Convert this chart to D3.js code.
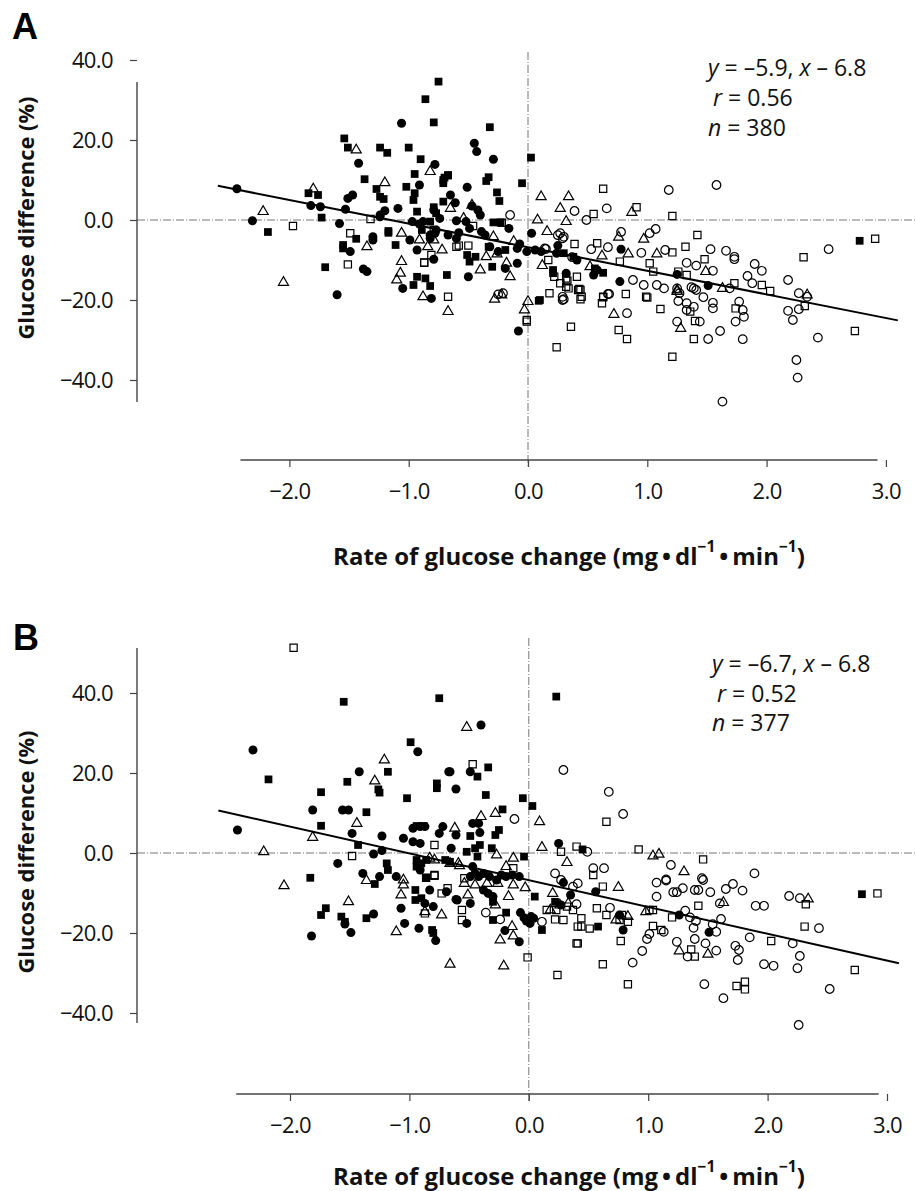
<!DOCTYPE html>
<html><head><meta charset="utf-8">
<script src="https://cdn.jsdelivr.net/npm/d3@7"></script>
<style>body{margin:0;background:#fff}svg{display:block}</style>
</head><body>
<svg id="chart" width="916" height="1191"></svg>
<script>
// ---------- data ----------
const xTicks = [-2, -1, 0, 1, 2, 3];
const yTicks = [-40, -20, 0, 20, 40];
const panelLetters = ["A", "B"];
const slopes = [-5.9, -6.7];
const intercepts = [-6.8, -6.8];
const rValues = ["0.56", "0.52"];
const nValues = ["380", "377"];
const fitRange = [-2.6, 3.1];

// Panel A
const aFilledCircle = [[-2.44,7.8],[-2.31,-0.2],[-1.82,3.6],[-1.74,3.3],[-1.60,-18.7],[-1.53,2.7],[-1.58,-0.9],[-1.51,5.4],[-1.47,6.25],[-1.42,14.2],[-1.49,-7.9],[-1.38,-12.25],[-1.35,-12.9],[-1.06,24.2],[-0.78,13.9],[-0.91,8.75],[-0.65,6.25],[-1.09,2.9],[-0.79,2.5],[-1.24,1.25],[-0.97,-0.4],[-0.91,-1.0],[-0.88,-0.4],[-0.99,-5],[-0.93,-7.5],[-0.82,-3.75],[-0.77,-2.5],[-0.67,-3.75],[-0.60,-4.6],[-1.30,-4.2],[-1.30,-5.0],[-1.05,-17.1],[-0.79,-9.8],[-0.81,-19.6],[-0.45,19.2],[-0.43,17.1],[-0.29,15.2],[-0.51,8.2],[-0.61,4.3],[-0.47,3.5],[-0.42,2.5],[-0.40,1.25],[-1.2,2.3],[-1.24,0.8],[-0.74,0.4],[-0.60,-0.2],[-0.52,-0.4],[-0.49,-2.1],[-0.16,-2.1],[-0.39,-2.9],[-0.36,-3.75],[-0.25,-7.9],[-0.07,-6],[-0.09,-7.1],[-0.01,-7.9],[0.06,-7.5],[0.11,-7.9],[0.24,-8.3],[0.03,-3.3],[0.25,-6.4],[0.32,-13.3],[0.41,-10],[-0.82,-4.6],[-0.78,-3.3],[-0.58,-3.2],[-0.32,-6.7],[-0.19,-12.1],[-0.09,-10.8],[-0.50,-14.2],[0.78,-7.3],[1.25,-13.6],[1.51,-16.4],[0.55,-13.75],[0.58,-12.5],[0.77,-15.4],[-0.08,-27.75]];
const aFilledSquare = [[-2.18,-3.0],[-1.84,6.7],[-1.76,6.25],[-1.73,0.6],[-1.70,-11.8],[-1.37,10.2],[-1.44,-4.7],[-1.55,-6.25],[-1.55,-7.1],[-0.75,34.6],[-0.86,30.2],[-0.79,24.4],[-1.54,20.4],[-1.51,18.1],[-1.24,18.1],[-1.18,16.8],[-1.00,18.1],[-0.90,15.2],[-0.95,11.5],[-0.71,10],[-0.67,11.1],[-1.02,8.3],[-1.27,7.75],[-1.24,5.8],[-1.21,5.25],[-0.95,6.7],[-0.96,5.0],[-0.71,4.6],[-0.93,2.1],[-1.17,-2.75],[-0.89,-2.5],[-1.11,-6.25],[-0.93,-14.2],[-0.86,-14.6],[-0.96,-16.25],[-0.82,-16.5],[-0.68,-13.75],[-0.32,23.2],[0.025,15.6],[-0.70,10.6],[-0.67,11.25],[-0.71,9.2],[-0.35,9.75],[-0.33,10.7],[-0.05,9.2],[-0.26,6.9],[-0.24,4.75],[-0.79,3.2],[-0.77,1.7],[-0.82,-0.4],[-0.29,-0.6],[-0.23,-0.6],[-0.33,-6.7],[-0.19,-7.5],[0.30,-8.3],[0.38,-9.2],[0.21,-12.5],[0.21,-13.3],[0.10,-20],[-0.51,-8.75],[-0.44,-9.2],[-0.49,-10.4],[-0.30,-11.7],[0.56,-12.1],[0.63,-13.2],[2.78,-5.2],[0.09,-20.2],[-1.17,-3.2]];
const aOpenCircle = [[0.39,2.25],[0.27,-3.3],[0.30,-4.2],[0.14,-7.1],[0.29,-20],[-0.25,-18.6],[-0.21,-18.3],[1.58,8.75],[1.18,7.5],[0.66,2.9],[0.49,0],[0.78,-3],[1.07,-2.25],[1.02,-3.3],[0.53,-7.3],[0.67,-6.8],[0.95,-8.2],[1.15,-7.5],[1.53,-7.3],[1.66,-7.7],[1.73,-9.2],[1.73,-9.8],[1.33,-10.7],[1.41,-11.4],[1.55,-12.7],[1.90,-11],[1.96,-12.7],[1.84,-14],[1.88,-15.8],[2.18,-15],[2.52,-7.3],[1.69,-17.1],[1.37,-16.8],[0.88,-15],[0.97,-16.25],[1.08,-16.25],[1.14,-17.1],[0.67,-18.5],[0.29,-19.2],[0.37,-9.3],[0.15,-7.25],[0.25,-3.8],[0.29,-4.6],[0.30,-19.8],[0.68,-18.5],[0.83,-23.3],[1.25,-17.1],[1.27,-18.3],[1.26,-20.25],[1.33,-20.8],[1.33,-22.5],[1.25,-25.4],[1.39,-21.7],[1.44,-25.4],[1.39,-17.1],[1.41,-17.5],[1.47,-19.3],[1.51,-29.75],[1.61,-27.75],[1.55,-20.7],[1.55,-22.1],[1.63,-45.4],[1.77,-20.4],[1.80,-22.5],[1.74,-25.4],[1.81,-24.2],[1.80,-29.8],[2.27,-18.3],[2.34,-19.2],[2.18,-22.7],[2.27,-22.3],[2.22,-25],[2.25,-35],[2.26,-39.4],[2.43,-29.4],[-0.15,1.25]];
const aOpenSquare = [[-1.97,-1.5],[-1.49,-3.3],[-1.51,-11.1],[-1.32,0.25],[-0.87,-10.6],[-0.67,-19.2],[-0.79,-2.5],[-0.60,-6.7],[-0.46,-1.5],[-0.22,-0.7],[-0.58,-6.4],[-0.50,-6.4],[-0.81,-8.75],[-0.87,-10.7],[0.39,-6],[0.17,-10],[0.22,-14.2],[0.27,-15.8],[0.33,-15.2],[0.34,-17.1],[0.42,-17.5],[0.18,-18.3],[-0.01,-25],[0.63,7.8],[0.55,1.5],[0.91,3.2],[1.21,1.0],[1.42,-3.75],[1.21,-8.1],[1.32,-6.7],[1.48,-9.8],[1.73,-15.8],[1.96,-16.25],[2.03,-17.75],[2.31,-9.3],[2.91,-4.7],[1.26,-12.9],[1.33,-13.75],[1.02,-10.8],[1.05,-12.9],[0.99,-19.2],[0.82,-18.5],[0.63,-19.2],[0.43,-17.25],[0.45,-19.2],[0.58,-5.8],[0.77,-10.4],[-0.01,-25.4],[0.24,-31.8],[0.36,-26.7],[0.44,-17.5],[0.44,-19.8],[0.41,-14.2],[0.32,-16.7],[0.32,-14.6],[0.62,-20.8],[0.63,-19.3],[0.76,-27.5],[0.83,-29.75],[1.0,-19.4],[1.11,-22.25],[1.21,-34.2],[1.36,-22.9],[1.40,-25.25],[1.39,-29.75],[1.74,-22.1],[2.32,-21.5],[2.74,-27.75]];
const aOpenTriangle = [[-2.22,2.1],[-2.05,-15.6],[-1.80,7.75],[-1.35,-6.7],[-1.44,17.5],[-0.82,12.1],[-1.20,9.3],[-0.65,2.9],[-1.06,-3.3],[-0.91,-5],[-0.84,-6.7],[-0.79,-5],[-0.72,-7.5],[-1.06,-10.4],[-1.07,-13.3],[-1.10,-15],[-0.88,-19.2],[-0.67,-22.9],[-0.47,3.7],[-0.54,0.4],[-0.29,-4.2],[-0.12,-5.4],[0.11,5.8],[0.34,5.8],[0.27,2.9],[0.08,0],[0.16,-2.9],[0.32,-0.4],[0.12,-11.4],[0.0,-20.4],[-0.03,-22.5],[-0.35,-9.2],[-0.26,-8.5],[-0.40,-12.5],[-0.18,-10.8],[-0.15,-14.2],[-0.28,-19.8],[-0.22,-18.75],[0.87,1.9],[0.97,-4.8],[0.76,-4.3],[0.84,-8.5],[1.08,-8.5],[1.49,-12.9],[2.34,-18.75],[1.63,-17.1],[1.25,-17.5],[0.62,-9],[0.52,-11.7],[0.72,-23.6],[1.25,-17.9],[1.28,-27.1]];

// Panel B
const bFilledCircle = [[-2.31,25.75],[-0.93,25.3],[-1.42,20.3],[-0.66,20.3],[-0.61,16],[-1.81,10.75],[-1.56,10.75],[-1.51,10.75],[-2.44,5.75],[-1.48,4.9],[-1.23,4.25],[-1.30,-0.25],[-1.23,0.6],[-1.05,3.7],[-0.97,2.8],[-0.97,6.2],[-0.91,6.6],[-0.87,6.6],[-0.91,2.4],[-0.72,6.6],[-0.75,4.9],[-0.61,4.5],[-0.65,1.2],[-1.60,-2.6],[-1.39,-5.1],[-1.25,-5.9],[-1.11,-5.9],[-0.87,-12.6],[-0.83,-9.25],[-0.80,-13.4],[-0.69,-9.7],[-0.61,-11.6],[-1.54,-17.75],[-1.30,-15.25],[-1.82,-20.75],[-1.49,-19.9],[-1.07,-13.8],[-1.04,-17.6],[-0.92,-18.8],[-0.78,-21.9],[-0.40,32],[-0.67,20.3],[-0.49,20.3],[-0.47,7.4],[-0.42,7.4],[-0.41,5.1],[0.25,2.4],[-0.91,-4.25],[-0.47,-3.4],[-0.49,-5.9],[-0.45,-5.1],[-0.42,-5.9],[-0.38,-5.1],[-0.33,-5.9],[-0.27,-6.75],[-0.23,-5.5],[-0.19,-5.9],[-0.14,-5.5],[-0.08,-5.9],[-0.38,-9.25],[-0.34,-10.1],[-0.30,-10.9],[-0.60,-11.75],[-0.49,-12.6],[-0.52,-17.6],[-0.07,-14.9],[-0.04,-16.2],[-0.02,-17],[0.02,-15.9],[0.01,-17.6],[0.04,-16.3],[-0.20,-19.4],[-0.08,-22.2],[0.27,-13],[0.35,-10.5],[0.29,-7.4],[0.56,-9.7],[0.76,-15.5],[0.79,-19.25],[1.26,-15.5],[1.51,-19.8]];
const bFilledSquare = [[-1.55,37.8],[-0.75,38.7],[-0.99,27.7],[-2.18,18.4],[-1.18,20.3],[-1.52,17.8],[-0.77,17.4],[-0.77,16.2],[-1.26,15.9],[-1.25,15.1],[-1.74,15.2],[-1.02,13.7],[-1.36,10.2],[-1.74,6.8],[-1.43,2.0],[-0.94,-1.75],[-0.90,-2.6],[-0.94,-3.4],[-0.86,-1.75],[-0.70,-1.75],[-0.66,-2.2],[-1.83,-6.2],[-1.19,-2.6],[-1.18,-4.25],[-1.29,-7.75],[-0.95,-9.25],[-0.95,-11.75],[-0.90,-11.3],[-1.70,-13.8],[-1.74,-15.5],[-1.57,-15.9],[-1.54,-17.2],[-1.36,-16.3],[-0.81,-19.25],[-0.80,-20],[-0.34,21.4],[-0.43,19.1],[-0.36,14.5],[-0.05,13.7],[0.03,11.75],[-0.22,10.9],[-0.25,5.75],[-0.28,4.5],[-0.49,4.25],[-0.94,6.75],[-0.88,6.75],[-0.52,0.3],[-0.45,1.2],[-0.41,2],[-0.31,1.2],[-0.43,-0.9],[-0.04,-0.9],[0.23,39.1],[0.45,0.9],[-0.30,-12.2],[0.05,-10.9],[-0.19,-14.9],[-0.30,-16.75],[0.11,-19.25],[0.22,-12.2],[0.58,-18.4],[2.79,-10.3],[-0.86,-6.2]];
const bOpenCircle = [[-0.12,8.5],[0.29,20.75],[0.67,15.3],[0.79,9.75],[0.49,0.3],[1.19,-3],[1.89,-5.1],[0.54,-3.8],[0.63,-3.8],[1.45,-6.3],[1.15,-6.6],[-0.36,-14.9],[-0.24,-16.6],[0.11,-17.2],[0.22,-5.1],[0.27,-6.75],[0.37,-8.4],[0.41,-7.6],[2.18,-10.75],[2.27,-11.3],[1.71,-7.75],[1.65,-9],[1.79,-9.4],[1.60,-12.6],[1.61,-16.5],[1.52,-9.8],[1.42,-9.25],[1.39,-9.25],[1.46,-6.75],[1.90,-13.2],[1.97,-13.2],[1.29,-8.8],[1.21,-9.8],[1.24,-9.8],[1.15,-6.9],[1.07,-7.4],[1.07,-10.9],[1.31,-14.4],[1.35,-16.1],[1.40,-17],[1.54,-17.8],[1.57,-19.7],[1.38,-18.7],[1.39,-21.5],[1.48,-22.6],[1.57,-24.4],[1.33,-25.9],[1.24,-22.2],[1.13,-19.7],[1.01,-20.25],[0.99,-21.5],[0.95,-24.5],[0.87,-27.4],[1.47,-32.8],[1.63,-36.3],[1.97,-27.8],[2.05,-28.2],[1.85,-21.1],[2.21,-22.6],[2.27,-25.75],[2.25,-28.8],[2.26,-43],[2.52,-34],[2.43,-18.8],[1.73,-23.2],[1.76,-24.25],[1.75,-26.75],[0.68,-13.7],[0.40,-12.8]];
const bOpenSquare = [[-1.97,51.3],[-1.48,-0.75],[-0.79,2.0],[-0.79,-5.5],[-0.86,-6.2],[-0.79,-5.7],[-0.68,-8.8],[-0.73,-10.1],[-0.87,-15.1],[-0.47,22.2],[0.27,0.3],[0.40,1.6],[-0.13,-3.8],[-0.54,-6.3],[-0.56,-14.25],[-0.56,-16.75],[-0.01,-26.1],[0.15,-14.25],[0.23,-14.25],[0.32,-13.4],[0.37,-14.25],[0.29,-16.75],[0.22,-16.6],[0.41,-18.4],[0.40,-22.6],[0.65,7.8],[0.92,0.9],[1.46,-1.6],[0.54,-5.5],[2.92,-10.1],[2.32,-12.8],[1.42,-13.2],[1.20,-16.1],[1.04,-14.25],[1.01,-14.25],[1.39,-25.9],[1.36,-24.1],[1.11,-19.25],[1.04,-18.25],[0.77,-22],[0.83,-32.8],[0.62,-27.8],[0.24,-30.5],[0.41,-22.6],[1.74,-33.25],[1.81,-32.2],[1.81,-34.1],[2.03,-22],[2.31,-18.4],[2.73,-29.25],[0.62,-8.4],[0.44,-16.3],[0.44,-18.4],[0.51,-18.9],[0.57,-13.8],[0.65,-15.5],[0.76,-16.75],[0.83,-17.2],[0.78,-15.5]];
const bOpenTriangle = [[-1.21,23.25],[-1.29,18],[-1.44,7.4],[-1.81,3.9],[-2.22,0.3],[-0.62,6.2],[-0.83,-1.3],[-0.79,-1.75],[-0.59,-2.6],[-2.05,-8.2],[-1.36,-6.9],[-1.05,-6.75],[-1.05,-8],[-1.07,-10.5],[-1.11,-19.7],[-1.51,-12.2],[-0.87,-14.7],[-0.73,-15.5],[-0.66,-27.8],[-0.52,31.4],[-0.40,9.1],[-0.28,9.9],[0.09,7.8],[-0.27,-0.5],[-0.13,-1.3],[0.11,1.4],[0.32,-2.4],[-0.66,-2.6],[-0.58,-3.2],[-0.51,-10.5],[-0.54,-7.6],[-0.45,-8],[-0.35,-7.6],[-0.26,-7.6],[-0.19,-3.4],[-0.13,-8],[-0.03,-8.7],[-0.28,-13],[-0.17,-10.9],[-0.14,-18.4],[-0.13,-20.75],[-0.24,-21.75],[0.20,-10.1],[0.26,-13],[0.33,-12.6],[0.18,-14.25],[1.09,-0.3],[1.04,-0.75],[1.30,-4.7],[2.34,-11.5],[1.63,-12.4],[0.98,-14.7],[1.50,-25.3],[1.26,-24.5],[-0.21,-28.25],[0.75,-8.6],[0.73,-16.75],[0.83,-15.9]];

// ---------- layout (positions/styles) ----------
const layout = [
  {xr:[289.4,885.9], yr:[380,60], yLine:[34.5,-45.5], xAxisY:460, xLine:[-2.41,2.93], vTop:52,
   letter:[12,39], annX:708, annY:[67,97,127], ylabCY:218, xlabCY:555},
  {xr:[290,887], yr:[1013,693], yLine:[51.25,-42.5], xAxisY:1094, xLine:[-2.45,2.93], vTop:638,
   letter:[13,650], annX:712, annY:[663,693,722], ylabCY:852, xlabCY:1175}
];
const series = [
  [aOpenCircle, aOpenSquare, aOpenTriangle, aFilledSquare, aFilledCircle],
  [bOpenCircle, bOpenSquare, bOpenTriangle, bFilledSquare, bFilledCircle]
];
const styles = [
  {type:d3.symbolCircle, size:58, fill:"none", stroke:"#000"},
  {type:d3.symbolSquare, size:52, fill:"none", stroke:"#000"},
  {type:d3.symbolTriangle, size:44, fill:"none", stroke:"#000"},
  {type:d3.symbolSquare, size:60, fill:"#000", stroke:"none"},
  {type:d3.symbolCircle, size:64, fill:"#000", stroke:"none"}
];
const FONT = "'Open Sans', 'DejaVu Sans', sans-serif";
const AXIS_X = 137;
const svg = d3.select("#chart");
const fmt = d3.format(".1f");

function fitText(sel, target){
  const node = sel.node();
  const fs = parseFloat(sel.attr("font-size"));
  const len = node.getComputedTextLength();
  if (len > 0) sel.attr("font-size", (fs * target / len).toFixed(2));
}

layout.forEach((L, i) => {
  const g = svg.append("g");
  const x = d3.scaleLinear().domain([-2, 3]).range(L.xr);
  const y = d3.scaleLinear().domain([-40, 40]).range(L.yr);

  // reference lines
  g.append("line").attr("x1", AXIS_X).attr("x2", 916).attr("y1", y(0)).attr("y2", y(0))
    .attr("stroke", "#777").attr("stroke-width", 1).attr("stroke-dasharray", "8,2,1,2");
  g.append("line").attr("x1", x(0)).attr("x2", x(0)).attr("y1", L.vTop).attr("y2", L.xAxisY + 7)
    .attr("stroke", "#777").attr("stroke-width", 1).attr("stroke-dasharray", "8,2,1,2");

  // y axis
  const ya = g.append("g").attr("transform", `translate(${AXIS_X},0)`)
    .call(d3.axisLeft(y).tickValues(yTicks).tickFormat(fmt).tickSize(7).tickPadding(17));
  ya.select(".domain").remove();
  ya.attr("font-family", FONT).attr("font-size", 22);
  ya.selectAll("text").attr("fill", "#111").attr("letter-spacing", "-0.6");
  ya.selectAll(".tick line").attr("stroke", "#444").attr("stroke-width", 1.2);
  g.append("line").attr("x1", AXIS_X).attr("x2", AXIS_X)
    .attr("y1", y(L.yLine[0])).attr("y2", y(L.yLine[1]))
    .attr("stroke", "#444").attr("stroke-width", 1.4);

  // x axis
  const xa = g.append("g").attr("transform", `translate(0,${L.xAxisY})`)
    .call(d3.axisBottom(x).tickValues(xTicks).tickFormat(fmt).tickSize(7).tickPadding(16));
  xa.select(".domain").remove();
  xa.attr("font-family", FONT).attr("font-size", 22);
  xa.selectAll("text").attr("fill", "#111").attr("letter-spacing", "-0.6");
  xa.selectAll(".tick line").attr("stroke", "#444").attr("stroke-width", 1.2);
  g.append("line").attr("x1", x(L.xLine[0])).attr("x2", x(L.xLine[1]))
    .attr("y1", L.xAxisY).attr("y2", L.xAxisY)
    .attr("stroke", "#444").attr("stroke-width", 1.4);

  // points
  series[i].forEach((pts, k) => {
    const st = styles[k];
    const sym = d3.symbol().type(st.type).size(st.size);
    g.append("g").selectAll("path").data(pts).join("path")
      .attr("d", sym)
      .attr("transform", d => `translate(${x(d[0])},${y(d[1])})`)
      .attr("fill", st.fill).attr("stroke", st.stroke).attr("stroke-width", 1.2);
  });

  // regression line
  g.append("line")
    .attr("x1", x(fitRange[0])).attr("y1", y(slopes[i] * fitRange[0] + intercepts[i]))
    .attr("x2", x(fitRange[1])).attr("y2", y(slopes[i] * fitRange[1] + intercepts[i]))
    .attr("stroke", "#000").attr("stroke-width", 2);

  // panel letter
  g.append("text").attr("x", L.letter[0]).attr("y", L.letter[1])
    .attr("font-family", "'Liberation Sans', Arial, sans-serif").attr("font-weight", 700)
    .attr("font-size", 36).text(panelLetters[i]);

  // annotation
  const ann = g.append("g").attr("font-family", FONT).attr("font-size", 23).attr("fill", "#111");
  const t1 = ann.append("text").attr("x", L.annX).attr("y", L.annY[0]).attr("dominant-baseline", "central");
  t1.append("tspan").attr("font-style", "italic").text("y");
  t1.append("tspan").text(` = \u2013${Math.abs(slopes[i]).toFixed(1)}, `);
  t1.append("tspan").attr("font-style", "italic").text("x");
  t1.append("tspan").text(` \u2013 ${Math.abs(intercepts[i]).toFixed(1)}`);
  const t2 = ann.append("text").attr("x", L.annX + 5).attr("y", L.annY[1]).attr("dominant-baseline", "central");
  t2.append("tspan").attr("font-style", "italic").text("r");
  t2.append("tspan").text(` = ${rValues[i]}`);
  const t3 = ann.append("text").attr("x", L.annX).attr("y", L.annY[2]).attr("dominant-baseline", "central");
  t3.append("tspan").attr("font-style", "italic").text("n");
  t3.append("tspan").text(` = ${nValues[i]}`);

  // y label
  const yl = g.append("text")
    .attr("transform", `translate(25,${L.ylabCY}) rotate(-90)`)
    .attr("text-anchor", "middle").attr("dominant-baseline", "central")
    .attr("font-family", FONT).attr("font-weight", 700).attr("font-size", 21).attr("fill", "#111")
    .text("Glucose difference (%)");
  fitText(yl, 243);

  // x label
  const xl = g.append("text").attr("x", 569).attr("y", L.xlabCY)
    .attr("text-anchor", "middle").attr("dominant-baseline", "central")
    .attr("font-family", FONT).attr("font-weight", 700).attr("font-size", 21).attr("fill", "#111");
  xl.append("tspan").text("Rate of glucose change (mg\u2009\u2022\u2009dl");
  xl.append("tspan").attr("font-size", "0.65em").attr("dy", "-0.55em").text("\u22121");
  xl.append("tspan").attr("dy", "0.36em").text("\u2009\u2022\u2009min");
  xl.append("tspan").attr("font-size", "0.65em").attr("dy", "-0.55em").text("\u22121");
  xl.append("tspan").attr("dy", "0.36em").text(")");
  fitText(xl, 472);
});
</script>
</body></html>
